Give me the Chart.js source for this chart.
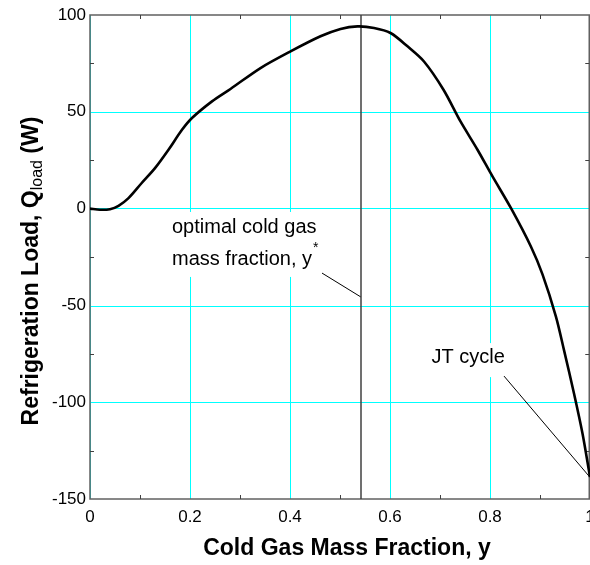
<!DOCTYPE html>
<html>
<head>
<meta charset="utf-8">
<script src="https://cdn.jsdelivr.net/npm/chart.js@4"></script>
<style>
  html, body { margin: 0; padding: 0; background: #fff; }
  #wrap { width: 590px; height: 565px; }
</style>
</head>
<body>
<div id="wrap"><canvas id="loadChart" width="590" height="565"></canvas></div>
<script>
// Cold gas mass fraction (x) and refrigeration load in W (y)
const coldFraction = [0, 0.02, 0.04, 0.057, 0.077, 0.103, 0.13, 0.157, 0.184, 0.204, 0.244, 0.281, 0.341,
  0.401, 0.461, 0.501, 0.535, 0.568, 0.601, 0.635, 0.668, 0.707, 0.741, 0.775, 0.805, 0.842, 0.882,
  0.905, 0.932, 0.948, 0.968, 0.985, 1.0];
const loadWatts = [0, -0.6, -0.3, 1.4, 5.4, 13.1, 20.9, 30.4, 40.7, 46.8, 55.4, 61.8, 72.6,
  81.2, 89, 92.8, 94.1, 93.3, 90.7, 83.8, 76, 61.4, 45, 30.4, 16.6, 0.2, -19.7,
  -34, -55.9, -73.1, -95.5, -116.2, -138.6];

// optimal cold gas fraction y*
const optimalY = 0.542;

// annotation leader lines [start, end]
const optimalLeader = [[0.464, -33.3], [0.542, -45.7]];
const jtLeader = [[0.828, -86.5], [1.0, -138.8]];

// minor tick values (frame ticks between the gridlines)
const minorX = [0.1, 0.3, 0.5, 0.7, 0.9];
const minorY = [75, 25, -25, -75, -125];

const FONT = "Arial, 'Liberation Sans', sans-serif";

function toPoints(pairs) {
  return pairs.map(([x, y]) => ({ x, y }));
}

const curvePoints = coldFraction.map((x, i) => ({ x, y: loadWatts[i] }));

// Plugin: horizontal grid, white label boxes, labels, frame, minor ticks and axis titles
const decorations = {
  id: "decorations",
  beforeDatasetsDraw(chart) {
    const { ctx, chartArea: a, scales } = chart;
    const xs = scales.x, ys = scales.y;
    const right = a.right - 0.75;
    ctx.save();

    // horizontal gridlines, snapped to whole pixel rows
    ctx.strokeStyle = "#00ffff";
    ctx.lineWidth = 1;
    ctx.beginPath();
    ys.ticks.forEach((t) => {
      if (t.value === ys.min || t.value === ys.max) return;
      const py = 2 * Math.round(ys.getPixelForValue(t.value) / 2) + 0.5;
      ctx.moveTo(a.left, py);
      ctx.lineTo(a.right, py);
    });
    ctx.stroke();

    // annotation text with white background
    ctx.font = "20px " + FONT;
    ctx.textBaseline = "alphabetic";
    const lx = xs.getPixelForValue(0.164);
    const l1 = ys.getPixelForValue(-12.6);
    const l2 = ys.getPixelForValue(-29.1);
    const w1 = ctx.measureText("optimal cold gas").width;
    const w2 = ctx.measureText("mass fraction, y").width;
    ctx.fillStyle = "#fff";
    ctx.fillRect(lx - 4, l1 - 21, Math.max(w1, w2 + 10) + 8, l2 - l1 + 33);

    const jx = xs.getPixelForValue(0.683);
    const jy = ys.getPixelForValue(-79.8);
    const wj = ctx.measureText("JT cycle").width;
    ctx.fillRect(jx - 5, jy - 20, wj + 10, 34);

    ctx.fillStyle = "#000";
    ctx.fillText("optimal cold gas", lx, l1);
    ctx.fillText("mass fraction, y", lx, l2);
    ctx.font = "14px " + FONT;
    ctx.fillText("*", lx + w2 + 1, l2 - 13);
    ctx.font = "20px " + FONT;
    ctx.fillText("JT cycle", jx, jy);

    // frame
    ctx.strokeStyle = "#606060";
    ctx.lineWidth = 1.5;
    ctx.strokeRect(a.left, a.top, right - a.left, a.bottom - a.top);

    // minor ticks pointing inward
    ctx.lineWidth = 1;
    ctx.strokeStyle = "#404040";
    ctx.beginPath();
    minorX.forEach((v) => {
      const px = Math.round(xs.getPixelForValue(v)) + 0.5;
      ctx.moveTo(px, a.bottom); ctx.lineTo(px, a.bottom - 4);
      ctx.moveTo(px, a.top); ctx.lineTo(px, a.top + 4);
    });
    minorY.forEach((v) => {
      const py = Math.round(ys.getPixelForValue(v)) + 0.5;
      ctx.moveTo(a.left, py); ctx.lineTo(a.left + 4, py);
      ctx.moveTo(right, py); ctx.lineTo(right - 4, py);
    });
    ctx.stroke();
    ctx.restore();
  },
  afterDraw(chart) {
    const { ctx } = chart;
    ctx.save();
    ctx.fillStyle = "#000";
    ctx.textBaseline = "middle";

    // x axis title
    ctx.font = "bold 23px " + FONT;
    ctx.textAlign = "center";
    ctx.fillText("Cold Gas Mass Fraction, y", 347, 549);

    // y axis title with subscript
    const main = "Refrigeration Load, Q";
    const tail = " (W)";
    const sub = "load";
    ctx.font = "bold 23px " + FONT;
    const wm = ctx.measureText(main).width;
    const wt = ctx.measureText(tail).width;
    ctx.font = "16px " + FONT;
    const ws = ctx.measureText(sub).width;
    const total = wm + ws + wt;
    ctx.translate(32, 271);
    ctx.rotate(-Math.PI / 2);
    ctx.textAlign = "left";
    let x0 = -total / 2;
    ctx.font = "bold 23px " + FONT;
    ctx.fillText(main, x0, 0);
    ctx.font = "16px " + FONT;
    ctx.fillText(sub, x0 + wm, 6);
    ctx.font = "bold 23px " + FONT;
    ctx.fillText(tail, x0 + wm + ws, 0);
    ctx.restore();
  },
};

new Chart(document.getElementById("loadChart").getContext("2d"), {
  type: "scatter",
  data: {
    datasets: [
      {
        data: curvePoints,
        showLine: true,
        borderColor: "#000",
        borderWidth: 2.6,
        pointRadius: 0,
        tension: 0.3,
      },
      {
        data: [{ x: optimalY, y: -150 }, { x: optimalY, y: 100 }],
        showLine: true,
        borderColor: "#404040",
        borderWidth: 1.5,
        pointRadius: 0,
      },
      {
        data: toPoints(optimalLeader),
        showLine: true,
        borderColor: "#000",
        borderWidth: 1,
        pointRadius: 0,
      },
      {
        data: toPoints(jtLeader),
        showLine: true,
        borderColor: "#000",
        borderWidth: 1,
        pointRadius: 0,
      },
    ],
  },
  options: {
    responsive: false,
    animation: false,
    layout: { padding: { top: 15, right: 0, left: 0, bottom: 0 } },
    plugins: {
      legend: { display: false },
      tooltip: { enabled: false },
    },
    scales: {
      x: {
        type: "linear",
        min: 0,
        max: 1,
        border: { display: false },
        grid: { color: "#00ffff", lineWidth: 1, drawTicks: false },
        ticks: {
          stepSize: 0.2,
          padding: 8,
          color: "#000",
          font: { family: FONT, size: 17 },
          maxRotation: 0,
          callback: (v) => String(Math.round(v * 10) / 10),
        },
        afterFit(scale) {
          scale.height = 66;
          scale.paddingLeft = 0;
          scale.paddingRight = 0;
        },
      },
      y: {
        min: -150,
        max: 100,
        border: { display: false },
        grid: { display: false, drawTicks: false },
        ticks: {
          stepSize: 50,
          padding: 4,
          color: "#000",
          font: { family: FONT, size: 17 },
        },
        afterFit(scale) {
          scale.width = 90;
          scale.paddingTop = 0;
          scale.paddingBottom = 0;
        },
      },
    },
  },
  plugins: [decorations],
});
</script>
</body>
</html>
